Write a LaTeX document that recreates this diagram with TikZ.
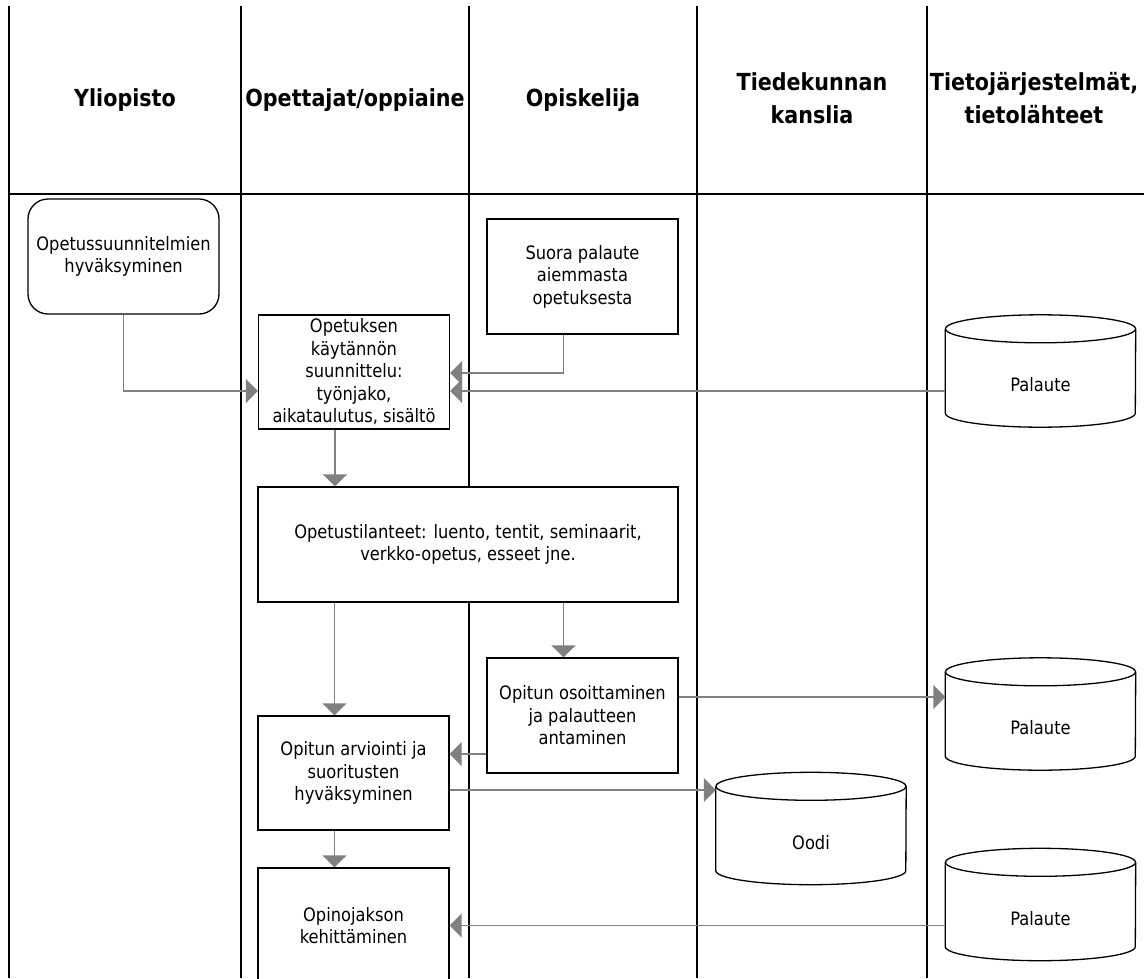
\documentclass[tikz,border=0pt]{standalone}
\usepackage{fontspec}
\setmainfont{DejaVu Sans}[FakeStretch=0.88]
\usetikzlibrary{arrows.meta,calc}
\definecolor{flowgray}{RGB}{128,128,128}
\begin{document}
\begin{tikzpicture}[x=1pt,y=-1pt,
  lane/.style={line width=1.8pt,black},
  proc/.style={draw=black,fill=white,line width=1.3pt,rectangle,align=center,inner sep=2pt,
    minimum width=191pt,minimum height=115pt,font=\fontsize{18.5}{22.5}\selectfont},
  store/.style={rectangle,align=center,minimum width=190pt,minimum height=84pt,inner sep=0pt,
    font=\fontsize{18.5}{22}\selectfont},
  hdr/.style={align=center,font=\bfseries\fontsize{23.5}{33}\selectfont},
  flow/.style={draw=flowgray,line width=1.6pt,-{Triangle[length=12pt,width=24pt,fill=flowgray]}},
  cyl/.style={draw=black,line width=1.3pt},
]
\useasboundingbox (0,0) rectangle (1144,978);

% swimlane separators and header rule
\foreach \x in {9,241,469,697,927} \draw[lane] (\x,6) -- (\x,978);
\draw[lane] (9,194) -- (1144,194);

% lane headings
\node[hdr] (hY) at (125,100) {Yliopisto};
\node[hdr] (hO) at (355,100) {Opettajat/oppiaine};
\node[hdr] (hS) at (583,100) {Opiskelija};
\node[hdr] (hT) at (812,98) {Tiedekunnan\\kanslia};
\node[hdr] (hJ) at (1034,98) {Tietojärjestelmät,\\tietolähteet};

% process steps
\node[proc,rounded corners=20pt] (plan) at (123.5,256.5) {Opetussuunnitelmien\\hyväksyminen};
\node[proc] (suora) at (582.5,276.5) {Suora palaute\\aiemmasta\\opetuksesta};
\node[proc,minimum height=114pt] (prac) at (354,372) {Opetuksen\\käytännön\\suunnittelu:\\työnjako,\\aikataulutus, sisältö};
\node[proc,minimum width=420pt] (situ) at (468,544.5) {Opetustilanteet: luento, tentit, seminaarit,\\verkko-opetus, esseet jne.};
\node[proc] (demo) at (582.5,715.5) {Opitun osoittaminen\\ja palautteen\\antaminen};
\node[proc,minimum height=114pt] (eval) at (353.5,773) {Opitun arviointi ja\\suoritusten\\hyväksyminen};
\node[proc] (dev) at (353.5,925.5) {Opinojakson\\kehittäminen};

% data stores (node = cylinder body below the top ellipse)
\node[store] (fb1) at (1040.5,385) {Palaute};
\node[store] (fb2) at (1040.5,728) {Palaute};
\node[store] (oodi) at (811,842.5) {Oodi};
\node[store] (fb3) at (1040.5,918.5) {Palaute};
\foreach \c in {fb1,fb2,oodi,fb3} {
  \draw[cyl] ($(\c.north west)+(0,-14)$) -- ($(\c.south west)+(0,-14)$)
    arc[start angle=180,end angle=360,x radius=95pt,y radius=14pt]
    -- ($(\c.north east)+(0,-14)$);
  \draw[cyl] ($(\c.north)+(0,-14)$) ellipse[x radius=95pt,y radius=14pt];
}

% connectors
\coordinate (a1) at ([yshift=-19pt]prac.west);
\draw[flow] (plan.south) |- (a1);
\coordinate (a2) at ([yshift=-1pt]prac.east);
\draw[flow] ([xshift=-19pt]suora.south) |- (a2);
\coordinate (a3) at ([yshift=-19pt]prac.east);
\draw[flow] (a3 -| fb1.west) -- (a3);
\coordinate (a4) at ([xshift=-19pt]prac.south);
\draw[flow] (a4) -- (a4 |- situ.north);
\coordinate (a5) at ([xshift=-19pt]eval.north);
\draw[flow] (a5 |- situ.south) -- (a5);
\coordinate (a6) at ([xshift=-19pt]demo.north);
\draw[flow] (a6 |- situ.south) -- (a6);
\coordinate (a7) at ([yshift=19pt]eval.east);
\draw[flow] (a7 -| demo.west) -- (a7);
\coordinate (a8) at ([yshift=18.5pt]demo.east);
\draw[flow] (a8) -- (a8 -| fb2.west);
\coordinate (a9) at ([yshift=-17pt]eval.east);
\draw[flow] (a9) -- (a9 -| oodi.west);
\coordinate (a10) at ([xshift=-19pt]dev.north);
\draw[flow] (a10 |- eval.south) -- (a10);
\draw[flow] (fb3.west |- dev.east) -- (dev.east);
\end{tikzpicture}
\end{document}
